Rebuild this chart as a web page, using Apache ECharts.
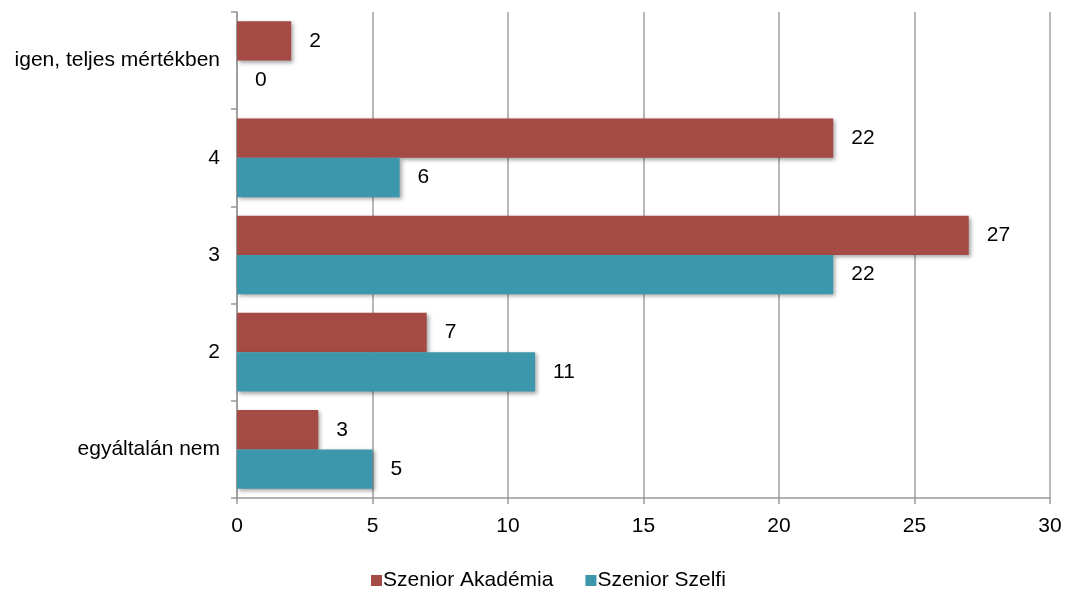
<!DOCTYPE html>
<html><head><meta charset="utf-8">
<script src="https://cdn.jsdelivr.net/npm/echarts@6/dist/echarts.min.js"></script>
<style>html,body{margin:0;padding:0;background:#fff}#c{width:1067px;height:589px}</style>
</head><body><div id="c"></div>
<script>
const categories = ["egyáltalán nem", "2", "3", "4", "igen, teljes mértékben"];
const akademia = [3, 7, 27, 22, 2];
const szelfi = [5, 11, 22, 6, 0];
const xTicks = {min: 0, max: 30, interval: 5};

const chart = echarts.init(document.getElementById('c'), null, {renderer: 'canvas'});
const font = '"Liberation Sans", Arial, sans-serif';
const fs = 21;
const barShadow = {shadowBlur: 4, shadowOffsetX: 2, shadowOffsetY: 2, shadowColor: 'rgba(0,0,0,0.35)'};
chart.setOption({
  animation: false,
  textStyle: {fontFamily: font},
  grid: {left: 237, right: 17, top: 12, bottom: 91, containLabel: false},
  legend: {
    top: 565, left: 366, itemWidth: 11, itemHeight: 11, itemGap: 32,
    icon: 'rect',
    textStyle: {fontSize: fs, color: '#000', fontFamily: font, padding: [0, 0, 0, -4]},
    data: ['Szenior Akadémia', 'Szenior Szelfi']
  },
  xAxis: {
    type: 'value', min: xTicks.min, max: xTicks.max, interval: xTicks.interval,
    axisLine: {show: true, lineStyle: {color: '#999', width: 1.5}},
    axisTick: {show: true, length: 6, lineStyle: {color: '#999', width: 1.5}},
    axisLabel: {fontSize: fs, color: '#000', margin: 18, fontFamily: font},
    splitLine: {show: true, lineStyle: {color: '#a0a0a0', width: 1.5}}
  },
  yAxis: {
    type: 'category', data: categories,
    axisLine: {show: true, lineStyle: {color: '#999', width: 1.5}},
    axisTick: {show: true, length: 6, lineStyle: {color: '#999', width: 1.5}},
    axisLabel: {fontSize: fs, color: '#000', margin: 17, fontFamily: font},
    splitLine: {show: false}
  },
  series: [
    {
      name: 'Szenior Akadémia', type: 'bar', data: akademia,
      barGap: '0%', barCategoryGap: '19%',
      itemStyle: Object.assign({color: '#A54B45'}, barShadow),
      label: {show: true, position: 'right', distance: 18, fontSize: fs, color: '#000', fontFamily: font}
    },
    {
      name: 'Szenior Szelfi', type: 'bar', data: szelfi,
      barGap: '0%', barCategoryGap: '19%',
      itemStyle: Object.assign({color: '#3C97AD'}, barShadow),
      label: {show: true, position: 'right', distance: 18, fontSize: fs, color: '#000', fontFamily: font}
    }
  ]
});
</script></body></html>
